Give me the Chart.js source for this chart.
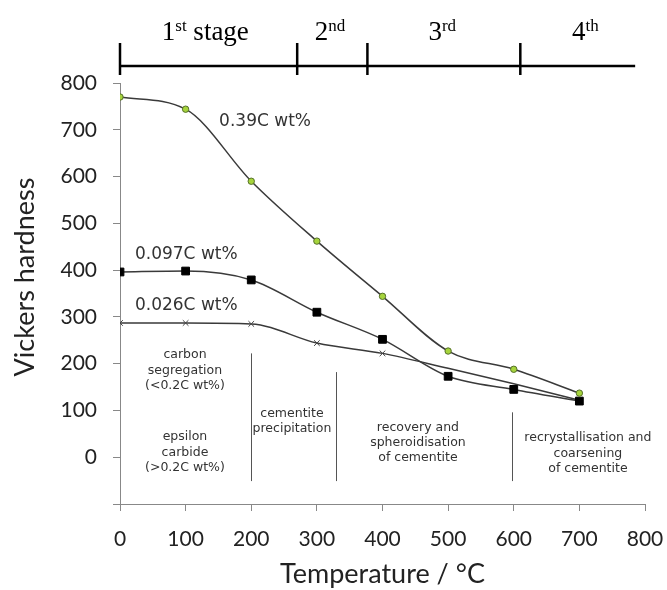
<!DOCTYPE html>
<html><head><meta charset="utf-8">
<script src="https://cdn.jsdelivr.net/npm/chart.js@4.4.1/dist/chart.umd.min.js"></script>
<style>html,body{margin:0;padding:0;background:#fff;} canvas{display:block;}</style>
</head><body>
<canvas id="c" width="667" height="590"></canvas>
<script>
// ---- data ----
const temperatures = [0, 100, 200, 300, 400, 500, 600, 700];
const hardness039 = [770, 744, 590, 462, 344, 227, 188, 137];
const hardness0097 = [396, 398, 379, 310, 252, 173, 145, 120];
const hardness0026 = [287, 287, 285, 244, 222, 190, 157, 122];
const marker0026 = [1, 1, 1, 1, 1, 0, 0, 1];

const seriesLabels = ['0.39C wt%', '0.097C wt%', '0.026C wt%'];
const seriesLabelX = [221, 101, 101];
const seriesLabelY = [717, 434, 325];

const stageBounds = [0, 270, 377, 610, 785];
const stageNumbers = ['1', '2', '3', '4'];
const stageSuffixes = ['st', 'nd', 'rd', 'th'];
const stageWords = [' stage', '', '', ''];
const stageCenters = [130, 320, 491, 709];

const regionTexts = [
  ['carbon', 'segregation', '(<0.2C wt%)'],
  ['epsilon', 'carbide', '(>0.2C wt%)'],
  ['cementite', 'precipitation'],
  ['recovery and', 'spheroidisation', 'of cementite'],
  ['recrystallisation and', 'coarsening', 'of cementite']
];
const regionX = [99, 99, 262, 454, 713];
const regionY = [218, 43, 94, 64, 41];

const dividerX = [200, 329, 598];
const dividerTop = [222, 182, 96];
const dividerBottom = [-51, -51, -51];

const xTitle = 'Temperature / °C';
const yTitle = 'Vickers hardness';

const toPoints = (vals) => temperatures.map((t, i) => ({x: t, y: vals[i]}));

const annot = {
  id: 'annot',
  afterDatasetsDraw(chart) {
    const {ctx, scales: {x, y}} = chart;
    ctx.save();
    // dividers
    ctx.strokeStyle = '#555';
    ctx.lineWidth = 1;
    dividerX.forEach((d, i) => {
      const px = Math.round(x.getPixelForValue(d)) + 0.5;
      ctx.beginPath();
      ctx.moveTo(px, y.getPixelForValue(dividerTop[i]));
      ctx.lineTo(px, y.getPixelForValue(dividerBottom[i]));
      ctx.stroke();
    });
    // region texts
    ctx.fillStyle = '#333';
    ctx.font = '12.5px "DejaVu Sans"';
    ctx.textAlign = 'center';
    ctx.textBaseline = 'middle';
    regionTexts.forEach((lines, i) => {
      const cx = x.getPixelForValue(regionX[i]);
      const cy = y.getPixelForValue(regionY[i]);
      lines.forEach((l, j) => ctx.fillText(l, cx, cy + j * 15.3));
    });
    // series labels
    ctx.font = '17px "DejaVu Sans"';
    seriesLabels.forEach((s, i) => {
      ctx.fillText(s, x.getPixelForValue(seriesLabelX[i]), y.getPixelForValue(seriesLabelY[i]));
    });
    // y title
    ctx.save();
    ctx.font = '27px Lato';
    ctx.fillStyle = '#222';
    ctx.translate(25, 277);
    ctx.rotate(-Math.PI / 2);
    ctx.fillText(yTitle, 0, 0);
    ctx.restore();
    // stage bar
    const lineY = 66;
    ctx.strokeStyle = '#000';
    ctx.lineWidth = 2.5;
    ctx.beginPath();
    ctx.moveTo(x.getPixelForValue(stageBounds[0]), lineY);
    ctx.lineTo(x.getPixelForValue(stageBounds[stageBounds.length - 1]), lineY);
    ctx.stroke();
    for (let i = 0; i < stageBounds.length - 1; i++) {
      const px = x.getPixelForValue(stageBounds[i]);
      ctx.beginPath();
      ctx.moveTo(px, 43);
      ctx.lineTo(px, 75);
      ctx.stroke();
    }
    ctx.fillStyle = '#000';
    ctx.textAlign = 'left';
    ctx.textBaseline = 'alphabetic';
    const big = '27px "Liberation Serif"', small = '17px "Liberation Serif"';
    stageNumbers.forEach((n, i) => {
      ctx.font = big; const w1 = ctx.measureText(n).width; const w3 = ctx.measureText(stageWords[i]).width;
      ctx.font = small; const w2 = ctx.measureText(stageSuffixes[i]).width;
      let sx = x.getPixelForValue(stageCenters[i]) - (w1 + w2 + w3) / 2;
      ctx.font = big; ctx.fillText(n, sx, 40); sx += w1;
      ctx.font = small; ctx.fillText(stageSuffixes[i], sx, 31); sx += w2;
      ctx.font = big; ctx.fillText(stageWords[i], sx, 40);
    });
    ctx.restore();
  }
};

const lineColor = '#3a3a3a';
new Chart(document.getElementById('c'), {
  type: 'line',
  data: {
    datasets: [
      {
        label: seriesLabels[0], data: toPoints(hardness039),
        borderColor: lineColor, borderWidth: 1.5, cubicInterpolationMode: 'monotone',
        pointStyle: 'circle', pointRadius: 3.2, pointBackgroundColor: '#a6d43c',
        pointBorderColor: '#55702a', pointBorderWidth: 1
      },
      {
        label: seriesLabels[1], data: toPoints(hardness0097),
        borderColor: lineColor, borderWidth: 1.5, cubicInterpolationMode: 'monotone',
        pointStyle: 'rect', pointRadius: 5.5, pointBackgroundColor: '#000',
        pointBorderColor: '#000', pointBorderWidth: 1
      },
      {
        label: seriesLabels[2], data: toPoints(hardness0026),
        borderColor: lineColor, borderWidth: 1.5, cubicInterpolationMode: 'monotone',
        pointStyle: 'crossRot', pointRadius: marker0026.map(m => m ? 4 : 0),
        pointBorderColor: '#444', pointBorderWidth: 1
      }
    ]
  },
  options: {
    responsive: false,
    devicePixelRatio: 1,
    animation: false,
    events: [],
    layout: {padding: {top: 83, right: 22, left: 0, bottom: 0}},
    plugins: {legend: {display: false}, tooltip: {enabled: false}},
    scales: {
      x: {
        type: 'linear', min: 0, max: 800,
        afterFit: s => { s.height = 86; s.paddingLeft = 0; s.paddingRight = 0; },
        ticks: {stepSize: 100, color: '#222', font: {family: 'Lato', size: 21}, padding: 16},
        grid: {drawOnChartArea: false, drawTicks: true, tickLength: 7, color: '#888'},
        border: {color: '#888', width: 1},
        title: {display: true, text: xTitle, color: '#222', font: {family: 'Lato', size: 27}, padding: {top: 0, bottom: 0}}
      },
      y: {
        type: 'linear', min: -100, max: 800,
        afterFit: s => { s.width = 120; },
        ticks: {stepSize: 100, color: '#222', font: {family: 'Lato', size: 21}, padding: 16,
          callback: v => v === -100 ? '' : v},
        grid: {drawOnChartArea: false, drawTicks: true, tickLength: 7, color: '#888'},
        border: {color: '#888', width: 1}
      }
    }
  },
  plugins: [annot]
});
</script>
</body></html>
